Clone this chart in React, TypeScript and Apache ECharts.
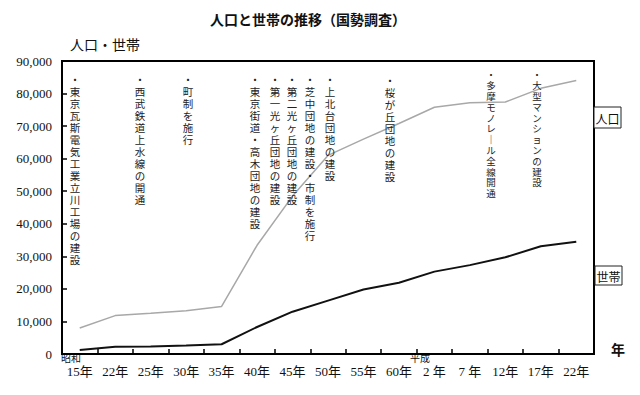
import React, { useEffect, useRef } from "react";
import * as echarts from "echarts";

const categories = ["15年", "22年", "25年", "30年", "35年", "40年", "45年", "50年", "55年", "60年", "2 年", "7 年", "12年", "17年", "22年"];
const population = [8000, 11800, 12500, 13300, 14600, 33400, 48500, 61000, 66000, 70800, 75800, 77200, 77400, 81600, 84000];
const households = [1200, 2200, 2300, 2600, 3000, 8300, 13000, 16400, 19800, 21900, 25300, 27300, 29700, 33100, 34500];
const yTicks = [0, 10000, 20000, 30000, 40000, 50000, 60000, 70000, 80000, 90000];

const events = [
  { text: "・東京瓦斯電気工業立川工場の建設", x: 75, y: 74, lh: 12, fs: 10.5 },
  { text: "・西武鉄道上水線の開通", x: 140, y: 74, lh: 12, fs: 10.5 },
  { text: "・町制を施行", x: 188, y: 74, lh: 12, fs: 10.5 },
  { text: "・東京街道・高木団地の建設", x: 255, y: 74, lh: 12, fs: 10.5 },
  { text: "・第一光ヶ丘団地の建設", x: 275, y: 74, lh: 12, fs: 10.5 },
  { text: "・第二光ヶ丘団地の建設", x: 292, y: 74, lh: 12, fs: 10.5 },
  { text: "・芝中団地の建設・市制を施行", x: 310, y: 74, lh: 12, fs: 10.5 },
  { text: "・上北台団地の建設", x: 330, y: 74, lh: 12, fs: 10.5 },
  { text: "・桜が丘団地の建設", x: 390, y: 75, lh: 12, fs: 10.5 },
  { text: "・多摩モノレ｜ル全線開通", x: 491, y: 70, lh: 10.8, fs: 9.5 },
  { text: "・大型マンションの建設", x: 537, y: 70, lh: 10.8, fs: 9.5 },
];

const FONT = '"Liberation Serif", "Noto Sans CJK JP", serif';
const JFONT = '"Noto Sans CJK JP", sans-serif';
const VFONT = '"Liberation Serif", "Noto Sans CJK JP", sans-serif';

export default function App() {
  const ref = useRef<HTMLDivElement>(null);
  useEffect(() => {
    if (!ref.current) return;
    const chart = echarts.init(ref.current, null, { renderer: "svg" });
    const graphics: any[] = [
      {
        type: "text",
        x: 308,
        y: 19,
        style: { text: "人口と世帯の推移（国勢調査）", font: `bold 14px ${JFONT}`, fill: "#111", align: "center", verticalAlign: "middle" },
      },
      {
        type: "text",
        x: 70,
        y: 44,
        style: { text: "人口・世帯", font: `14px ${JFONT}`, fill: "#111", align: "left", verticalAlign: "middle" },
      },
      {
        type: "text",
        x: 71,
        y: 358,
        style: { text: "昭和", font: `10px ${VFONT}`, fill: "#111", align: "center", verticalAlign: "middle" },
      },
      {
        type: "text",
        x: 420,
        y: 358,
        style: { text: "平成", font: `10px ${VFONT}`, fill: "#111", align: "center", verticalAlign: "middle" },
      },
      {
        type: "text",
        x: 618,
        y: 349,
        style: { text: "年", font: `bold 14px ${JFONT}`, fill: "#111", align: "center", verticalAlign: "middle" },
      },
      { type: "rect", shape: { x: 594, y: 107, width: 27, height: 21 }, style: { fill: "#fff", stroke: "#222", lineWidth: 1 } },
      {
        type: "text",
        x: 607.5,
        y: 118,
        style: { text: "人口", font: `12px ${JFONT}`, fill: "#111", align: "center", verticalAlign: "middle" },
      },
      { type: "rect", shape: { x: 595, y: 266, width: 27, height: 19 }, style: { fill: "#fff", stroke: "#222", lineWidth: 1 } },
      {
        type: "text",
        x: 608.5,
        y: 276,
        style: { text: "世帯", font: `12px ${JFONT}`, fill: "#111", align: "center", verticalAlign: "middle" },
      },
    ];
    events.forEach((e) => {
      graphics.push({
        type: "text",
        x: e.x,
        y: e.y,
        z: 10,
        style: {
          text: Array.from(e.text).join("\n"),
          font: `${e.fs}px ${VFONT}`,
          lineHeight: e.lh,
          fill: "#222",
          align: "center",
          verticalAlign: "top",
        },
      });
    });
    chart.setOption({
      animation: false,
      backgroundColor: "#fff",
      grid: { left: 62, right: 46, top: 61, bottom: 41, show: true, borderColor: "#000", borderWidth: 2, backgroundColor: "transparent" },
      xAxis: {
        type: "category",
        data: categories,
        boundaryGap: true,
        axisLine: { show: true, lineStyle: { color: "#000", width: 2 } },
        axisTick: { show: true, inside: true, length: 5, lineStyle: { color: "#000", width: 1.5 } },
        axisLabel: { color: "#111", fontSize: 13, fontFamily: FONT, margin: 11, interval: 0 },
        splitLine: { show: false },
      },
      yAxis: {
        type: "value",
        min: 0,
        max: 90000,
        interval: 10000,
        axisLine: { show: true, lineStyle: { color: "#000", width: 2 } },
        axisTick: { show: true, inside: true, length: 5, lineStyle: { color: "#000", width: 1.5 } },
        axisLabel: {
          color: "#111",
          fontSize: 13,
          fontFamily: FONT,
          margin: 10,
          formatter: (v: number) => (yTicks.includes(v) ? (v === 0 ? "0" : v.toLocaleString("en-US")) : ""),
        },
        splitLine: { show: false },
      },
      series: [
        {
          name: "人口",
          type: "line",
          data: population,
          symbol: "none",
          lineStyle: { color: "#a8a8a8", width: 1.5 },
          z: 3,
        },
        {
          name: "世帯",
          type: "line",
          data: households,
          symbol: "none",
          lineStyle: { color: "#111", width: 2 },
          z: 3,
        },
      ],
      graphic: graphics,
    });
    return () => chart.dispose();
  }, []);
  return <div ref={ref} style={{ width: 640, height: 395, position: "absolute", left: 0, top: 0 }} />;
}
